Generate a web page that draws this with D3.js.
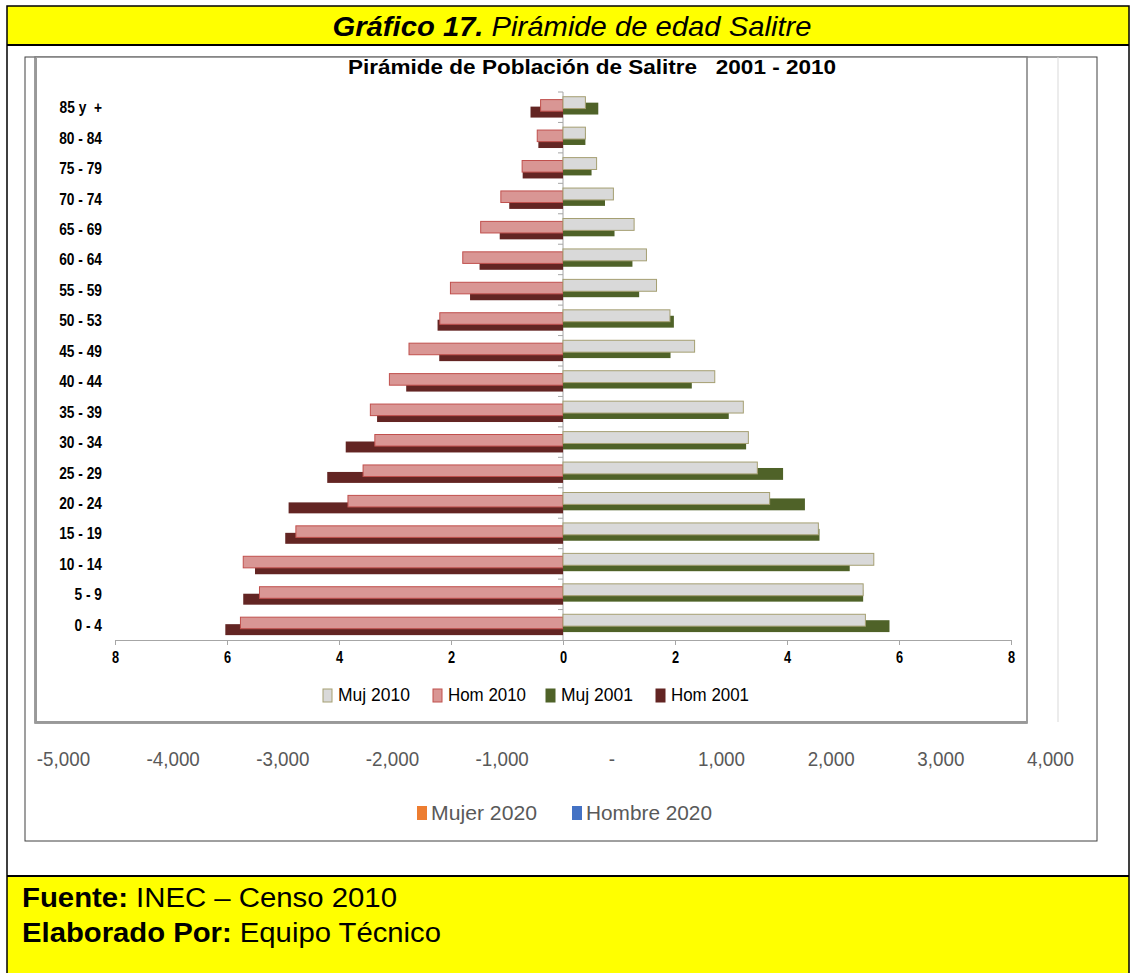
<!DOCTYPE html>
<html>
<head>
<meta charset="utf-8">
<script src="https://cdn.jsdelivr.net/npm/d3@7"></script>
<style>
body { margin: 0; background: #fff; }
text { white-space: pre; }
</style>
</head>
<body>
<script>
// age groups, bottom to top
var categories = ["0 - 4", "5 - 9", "10 - 14", "15 - 19", "20 - 24", "25 - 29", "30 - 34", "35 - 39", "40 - 44",
  "45 - 49", "50 - 53", "55 - 59", "60 - 64", "65 - 69", "70 - 74", "75 - 79", "80 - 84", "85 y  +"];
// percent of population
var muj2010 = [5.40, 5.36, 5.55, 4.56, 3.69, 3.47, 3.31, 3.22, 2.71, 2.35, 1.91, 1.67, 1.49, 1.27, 0.90, 0.60, 0.40, 0.40];
var hom2010 = [5.76, 5.42, 5.71, 4.77, 3.84, 3.57, 3.36, 3.44, 3.10, 2.75, 2.20, 2.01, 1.79, 1.47, 1.11, 0.73, 0.46, 0.40];
var muj2001 = [5.83, 5.36, 5.12, 4.58, 4.32, 3.93, 3.27, 2.96, 2.30, 1.92, 1.98, 1.36, 1.24, 0.92, 0.75, 0.51, 0.40, 0.63];
var hom2001 = [6.03, 5.71, 5.50, 4.96, 4.90, 4.21, 3.88, 3.32, 2.80, 2.21, 2.24, 1.66, 1.49, 1.13, 0.96, 0.72, 0.44, 0.58];
var pctTicks = [-8, -6, -4, -2, 0, 2, 4, 6, 8];
var legendNames = ["Muj 2010", "Hom 2010", "Muj 2001", "Hom 2001"];
// empty chart behind (2020)
var ticks2020 = [-5000, -4000, -3000, -2000, -1000, 0, 1000, 2000, 3000, 4000];
var legend2020 = ["Mujer 2020", "Hombre 2020"];

var width = 1132, height = 973;
var arial = "'Liberation Sans', Arial, sans-serif";

var svg = d3.select("body").append("svg")
  .attr("width", width)
  .attr("height", height);

// yellow header + footer, document frame
svg.append("rect").attr("x", 7).attr("y", 6).attr("width", 1122).attr("height", 39).attr("fill", "#ffff00");
svg.append("rect").attr("x", 7).attr("y", 876).attr("width", 1122).attr("height", 97).attr("fill", "#ffff00");
svg.append("rect").attr("x", 7).attr("y", 6).attr("width", 1122).attr("height", 975)
  .attr("fill", "none").attr("stroke", "#000").attr("stroke-width", 1.5);
svg.append("line").attr("x1", 7).attr("x2", 1129).attr("y1", 45).attr("y2", 45).attr("stroke", "#000").attr("stroke-width", 2);
svg.append("line").attr("x1", 7).attr("x2", 1129).attr("y1", 876).attr("y2", 876).attr("stroke", "#000").attr("stroke-width", 2);

var head = svg.append("text")
  .attr("x", 572).attr("y", 36)
  .attr("text-anchor", "middle")
  .attr("font-family", arial).attr("font-size", 28).attr("font-style", "italic")
  .attr("textLength", 479).attr("lengthAdjust", "spacingAndGlyphs");
head.append("tspan").attr("font-weight", "bold").text("Gráfico 17.");
head.append("tspan").text(" Pirámide de edad Salitre");

var foot1 = svg.append("text").attr("x", 22).attr("y", 907).attr("font-family", arial).attr("font-size", 27)
  .attr("textLength", 375).attr("lengthAdjust", "spacingAndGlyphs");
foot1.append("tspan").attr("font-weight", "bold").text("Fuente:");
foot1.append("tspan").text(" INEC – Censo 2010");
var foot2 = svg.append("text").attr("x", 22).attr("y", 942).attr("font-family", arial).attr("font-size", 27)
  .attr("textLength", 419).attr("lengthAdjust", "spacingAndGlyphs");
foot2.append("tspan").attr("font-weight", "bold").text("Elaborado Por:");
foot2.append("tspan").text(" Equipo Técnico");

// the empty 2020 chart underneath
svg.append("rect").attr("x", 25).attr("y", 57).attr("width", 1072).attr("height", 784)
  .attr("fill", "#fff").attr("stroke", "#404040").attr("stroke-width", 1);

var x2020 = d3.scaleLinear().domain([-5000, 4000]).range([63, 1050]);
var ax2020 = svg.append("g")
  .attr("transform", "translate(0,748)")
  .call(d3.axisBottom(x2020).tickValues(ticks2020).tickSize(0)
    .tickFormat(function(d) { return d === 0 ? "-" : d3.format(",")(d).replace("\u2212", "-"); }));
ax2020.select(".domain").remove();
ax2020.selectAll("text").attr("font-family", arial).attr("font-size", 20).attr("fill", "#595959")
  .attr("transform", "scale(0.94,1.05)");

var leg2020 = svg.append("g").attr("transform", "translate(0,813)");
var col2020 = ["#ed7d31", "#4472c4"];
var legX2020 = [417, 572];
legend2020.forEach(function(n, i) {
  leg2020.append("rect").attr("x", legX2020[i]).attr("y", -7).attr("width", 10).attr("height", 14).attr("fill", col2020[i]);
  leg2020.append("text").attr("x", legX2020[i] + 14).attr("y", 7)
    .attr("font-family", arial).attr("font-size", 21).attr("fill", "#595959")
    .attr("textLength", i === 0 ? 106 : 126).attr("lengthAdjust", "spacingAndGlyphs").text(n);
});

// the pyramid chart on top
svg.append("rect").attr("x", 35).attr("y", 57).attr("width", 992).attr("height", 666)
  .attr("fill", "#fff").attr("stroke", "#7f7f7f").attr("stroke-width", 1.5);
svg.append("line").attr("x1", 36).attr("x2", 36).attr("y1", 58).attr("y2", 723).attr("stroke", "#999").attr("stroke-width", 2);
svg.append("line").attr("x1", 36).attr("x2", 1027).attr("y1", 722).attr("y2", 722).attr("stroke", "#999").attr("stroke-width", 2);
svg.append("line").attr("x1", 1058).attr("x2", 1058).attr("y1", 57).attr("y2", 722).attr("stroke", "#d9d9d9").attr("stroke-width", 1);

svg.append("text")
  .attr("x", 592).attr("y", 74)
  .attr("text-anchor", "middle")
  .attr("font-family", arial).attr("font-size", 21).attr("font-weight", "bold")
  .attr("textLength", 488).attr("lengthAdjust", "spacingAndGlyphs")
  .text("Pirámide de Población de Salitre   2001 - 2010");

var x = d3.scaleLinear().domain([-8, 8]).range([115, 1011]);
var y = d3.scaleBand().domain(categories).range([640, 92]);
var bw = y.bandwidth();

var xAxis = svg.append("g")
  .attr("transform", "translate(0,640)")
  .call(d3.axisBottom(x).tickValues(pctTicks).tickSize(5).tickSizeOuter(0)
    .tickFormat(function(d) { return Math.abs(d); }));
xAxis.select(".domain").attr("stroke", "#a6a6a6");
xAxis.selectAll("line").attr("stroke", "#a6a6a6");
xAxis.selectAll("text").attr("y", 12).attr("dy", "0.71em").attr("font-family", arial).attr("font-size", 16)
  .attr("font-weight", "bold").attr("fill", "#000").attr("transform", "scale(0.8,1)");

// category axis at zero
svg.append("line").attr("x1", x(0)).attr("x2", x(0)).attr("y1", 92).attr("y2", 640).attr("stroke", "#a6a6a6");
svg.selectAll(".ytick").data(categories).enter().append("line")
  .attr("x1", x(0) - 5).attr("x2", x(0))
  .attr("y1", function(d) { return y(d); }).attr("y2", function(d) { return y(d); })
  .attr("stroke", "#a6a6a6");
svg.append("g").attr("transform", "translate(102,0) scale(0.86,1)")
  .selectAll("text").data(categories).enter().append("text")
  .attr("x", 0)
  .attr("y", function(d) { return y(d) + bw / 2 + 6; })
  .attr("text-anchor", "end")
  .attr("font-family", arial).attr("font-size", 16).attr("font-weight", "bold")
  .text(function(d) { return d; });

// dark bars first, light bars drawn over them
function bars(vals, sign, top, h, fill, stroke) {
  svg.append("g").selectAll("rect").data(vals).enter().append("rect")
    .attr("x", function(d) { return sign < 0 ? x(-d) : x(0); })
    .attr("y", function(d, i) { return y(categories[i]) + top * bw; })
    .attr("width", function(d) { return x(d) - x(0); })
    .attr("height", h * bw)
    .attr("fill", fill)
    .attr("stroke", stroke)
    .attr("stroke-width", stroke === "none" ? 0 : 1);
}
bars(hom2001, -1, 0.48, 0.36, "#632523", "none");
bars(hom2010, -1, 0.25, 0.38, "#d99694", "#c0504d");
bars(muj2001, 1, 0.35, 0.39, "#4f6228", "none");
bars(muj2010, 1, 0.155, 0.39, "#d9d9d9", "#a59f72");

// legend
var legCol = [["#d9d9d9", "#a59f72"], ["#d99694", "#c0504d"], ["#4f6228", "#4f6228"], ["#632523", "#632523"]];
var legX = [323, 433, 546, 656];
var legW = [72, 78, 72, 78];
var leg = svg.append("g").attr("transform", "translate(0,695)");
legendNames.forEach(function(n, i) {
  leg.append("rect").attr("x", legX[i]).attr("y", -6).attr("width", 9).attr("height", 13)
    .attr("fill", legCol[i][0]).attr("stroke", legCol[i][1]);
  leg.append("text").attr("x", legX[i] + 15).attr("y", 6)
    .attr("font-family", arial).attr("font-size", 18).attr("fill", "#000")
    .attr("textLength", legW[i]).attr("lengthAdjust", "spacingAndGlyphs").text(n);
});
</script>
</body>
</html>
